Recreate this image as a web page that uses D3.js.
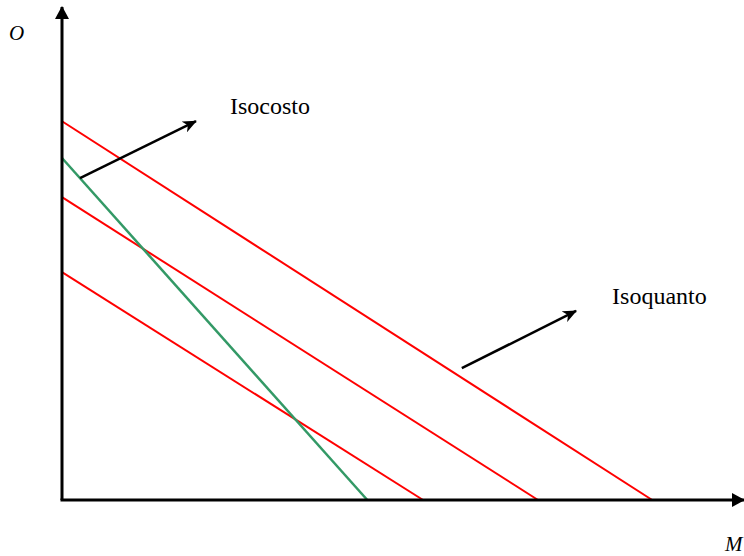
<!DOCTYPE html>
<html>
<head>
<meta charset="utf-8">
<script src="https://cdn.jsdelivr.net/npm/d3@7"></script>
<style>
  html, body { margin: 0; padding: 0; background: #fff; }
  svg { display: block; }
</style>
</head>
<body>
<div id="chart"></div>
<script>
// Isocost lines (red): intercepts on the M axis and on the O axis
const isocostM = [5.31, 7.00, 8.68];
const isocostO = [4.65, 6.18, 7.73];

// Isoquant (green): intercepts
const isoquantM = [4.49];
const isoquantO = [6.98];

// Annotation labels with their pointer arrows, in data units
const labels = ["Isocosto", "Isoquanto"];
const labelX = [2.47, 8.09];
const labelY = [7.88, 4.00];
const arrowFrom = [[0.265, 6.57], [5.88, 2.69]];
const arrowTo = [[1.97, 7.73], [7.56, 3.86]];

// Axis titles
const axisTitleX = "M";
const axisTitleY = "O";

const serif = "'Liberation Serif', 'Times New Roman', 'DejaVu Serif', serif";
const width = 744, height = 556;
const svg = d3.select("#chart").append("svg")
  .attr("width", width).attr("height", height);

const x = d3.scaleLinear().domain([0, 10]).range([62, 742]);
const y = d3.scaleLinear().domain([0, 10]).range([500, 10]);

// Arrowhead markers
const defs = svg.append("defs");
defs.append("marker")
  .attr("id", "head")
  .attr("viewBox", "0 0 14 12")
  .attr("refX", 13).attr("refY", 6)
  .attr("markerWidth", 14).attr("markerHeight", 12)
  .attr("markerUnits", "userSpaceOnUse")
  .attr("orient", "auto")
  .append("path")
  .attr("d", "M0,0 L14,6 L0,12 L4,6 Z")
  .attr("fill", "#000");
defs.append("marker")
  .attr("id", "axisHead")
  .attr("viewBox", "0 0 13 14")
  .attr("refX", 12).attr("refY", 7)
  .attr("markerWidth", 13).attr("markerHeight", 14)
  .attr("markerUnits", "userSpaceOnUse")
  .attr("orient", "auto")
  .append("path")
  .attr("d", "M0,0 L13,7 L0,14 Z")
  .attr("fill", "#000");

// Isocost lines
svg.append("g").selectAll("line")
  .data(isocostM.map((m, i) => ({ m, o: isocostO[i] })))
  .join("line")
  .attr("x1", x(0)).attr("y1", d => y(d.o))
  .attr("x2", d => x(d.m)).attr("y2", y(0))
  .attr("stroke", "#ff0000").attr("stroke-width", 2);

// Isoquant line
svg.append("g").selectAll("line")
  .data(isoquantM.map((m, i) => ({ m, o: isoquantO[i] })))
  .join("line")
  .attr("x1", x(0)).attr("y1", d => y(d.o))
  .attr("x2", d => x(d.m)).attr("y2", y(0))
  .attr("stroke", "#339966").attr("stroke-width", 2.5);

// Axes with arrowheads
svg.append("line")
  .attr("x1", x(0)).attr("y1", y(0))
  .attr("x2", x(0)).attr("y2", 7)
  .attr("stroke", "#000").attr("stroke-width", 3)
  .attr("marker-end", "url(#axisHead)");
svg.append("line")
  .attr("x1", x(0) - 1.5).attr("y1", y(0))
  .attr("x2", 744).attr("y2", y(0))
  .attr("stroke", "#000").attr("stroke-width", 3)
  .attr("marker-end", "url(#axisHead)");

// Axis titles
svg.append("text")
  .attr("x", 9).attr("y", 40)
  .attr("font-family", serif)
  .attr("font-size", 21).attr("font-style", "italic")
  .text(axisTitleY);
svg.append("text")
  .attr("x", 725).attr("y", 551)
  .attr("font-family", serif)
  .attr("font-size", 21).attr("font-style", "italic")
  .text(axisTitleX);

// Pointer arrows
svg.append("g").selectAll("line")
  .data(arrowFrom.map((f, i) => ({ f, t: arrowTo[i] })))
  .join("line")
  .attr("x1", d => x(d.f[0])).attr("y1", d => y(d.f[1]))
  .attr("x2", d => x(d.t[0])).attr("y2", d => y(d.t[1]))
  .attr("stroke", "#000").attr("stroke-width", 2.5)
  .attr("marker-end", "url(#head)");

// Labels
svg.append("g").selectAll("text")
  .data(labels.map((t, i) => ({ t, lx: labelX[i], ly: labelY[i] })))
  .join("text")
  .attr("x", d => x(d.lx)).attr("y", d => y(d.ly))
  .attr("font-family", serif)
  .attr("font-size", 24)
  .text(d => d.t);
</script>
</body>
</html>
